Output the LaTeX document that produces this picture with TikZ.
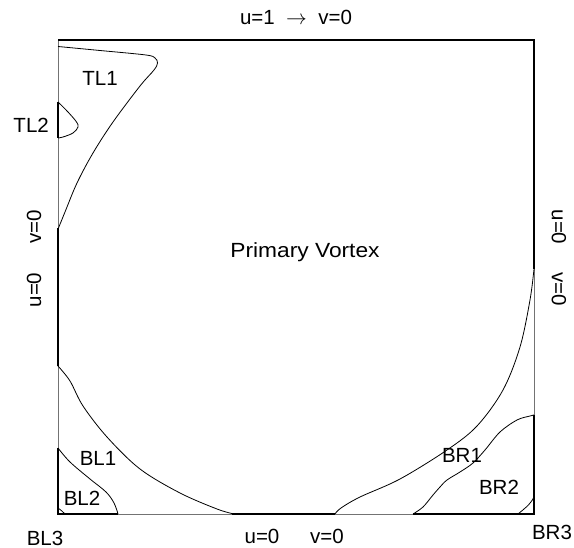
\documentclass[tikz,border=0pt]{standalone}
\usepackage{fontspec}
\setmainfont{Liberation Sans}
\begin{document}
\begin{tikzpicture}[x=1pt,y=-1pt,
  lbl/.style={inner sep=0pt,font=\fontsize{20.5}{22}\selectfont},
  wallthin/.style={line width=0.7pt,black!55},
  wallthick/.style={line width=1.5pt,black},
  curve/.style={line width=0.8pt,black,line join=round}]
\useasboundingbox (0,0) rectangle (574,548);
% corners of the cavity
\coordinate (TLc) at (58,40);
\coordinate (TRc) at (534,40);
\coordinate (BRc) at (534,514);
\coordinate (BLc) at (58,514);
% thin walls
\draw[wallthin] (TLc) -- (TRc) -- (BRc) -- (BLc) -- cycle;
% thick wall segments (contour overlap)
\draw[wallthick] (58,228) -- (58,366);
\draw[wallthick] (TLc) -- (TRc) -- (534,269);
\draw[wallthick] (232,514) -- (335,514);
\draw[wallthick] (58,102) -- (58,138);
\draw[wallthick] (58,448) -- (BLc) -- (118,514);
\draw[wallthick] (534,415) -- (BRc) -- (413,514);
% TL1
\draw[curve] plot[smooth,tension=0.55] coordinates {(58,46.5) (100,50.5) (146,55) (155,58) (157.5,63) (154,70) (140,86) (113,122) (93,153) (77,183) (65,212) (58.5,228)};
% TL2
\draw[curve] plot[smooth,tension=0.6] coordinates {(58,102) (68,112) (76.5,122) (78,127) (73,133) (63,137) (58,138)};
% BL1 (primary boundary)
\draw[curve] plot[smooth,tension=0.55] coordinates {(58,366) (70,381) (83,406) (107,437) (140,469) (180,493) (217,509) (234,514)};
% BL2
\draw[curve] plot[smooth,tension=0.6] coordinates {(58,448) (70,462) (90,479) (106,492) (114,503) (118,514)};
% BL3
\draw[curve] (58,508) .. controls (61,510) and (63,512) .. (65,514);
% BR primary boundary
\draw[curve] plot[smooth,tension=0.55] coordinates {(534,269) (530,300) (520,347) (503,390) (477,426) (447,450) (400,479) (360,497) (341,508) (335,514)};
% BR2
\draw[curve] plot[smooth,tension=0.55] coordinates {(534,415) (530,416) (517,420) (500,432) (485,450) (473,463) (460,472) (447,480) (440,487) (433,495) (423,507) (413,514)};
% BR3
\draw[curve] (518,514) .. controls (524,509) and (530,505) .. (534,497);
% labels
\node[lbl] (top) at (296,17) {u=1\ \ $\rightarrow$\ \ v=0};
\node[lbl,xscale=1.11] (pv) at (305,252) {Primary Vortex};
\node[lbl] (tl1) at (100,78) {TL1};
\node[lbl,anchor=east] (tl2) at (49,125) {TL2};
\node[lbl,rotate=90] (lv) at (34,227) {v=0};
\node[lbl,rotate=90] (lu) at (34,290) {u=0};
\node[lbl,rotate=-90] (ru) at (559,227) {u=0};
\node[lbl,rotate=-90] (rv) at (559,289) {v=0};
\node[lbl] (bu) at (262,536) {u=0};
\node[lbl] (bv) at (327,536) {v=0};
\node[lbl] (bl1) at (98,458) {BL1};
\node[lbl] (bl2) at (82,498) {BL2};
\node[lbl] (bl3) at (45,538) {BL3};
\node[lbl] (br1) at (462,455) {BR1};
\node[lbl] (br2) at (499,487) {BR2};
\node[lbl] (br3) at (552,532) {BR3};
\end{tikzpicture}
\end{document}
